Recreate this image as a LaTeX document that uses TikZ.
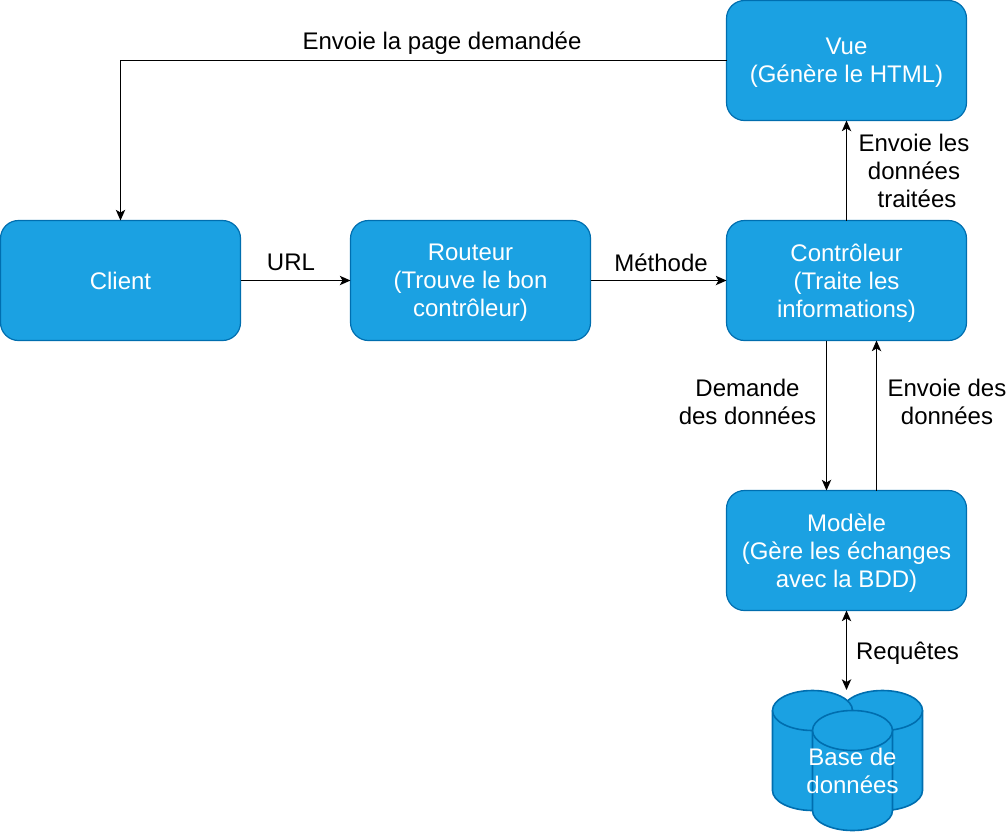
\documentclass[tikz,border=0pt]{standalone}
\usepackage{fontspec}
\setmainfont{Liberation Sans}
\usepackage{tikz}
\usetikzlibrary{arrows,arrows.meta,positioning}
\definecolor{mvcblue}{RGB}{27,161,226}
\definecolor{mvcedge}{RGB}{0,110,175}
\tikzstyle{block} = [rectangle, rounded corners=13.5pt, minimum width=180pt, minimum height=90pt, inner sep=0pt, outer sep=0pt, align=center, text depth=0pt, text=white, draw=mvcedge, fill=mvcblue, line width=0.9pt, font=\fontsize{18}{21}\selectfont]
\tikzstyle{lbl} = [align=center, inner sep=0pt, font=\fontsize{18}{21}\selectfont]
\tikzstyle{arrow} = [line width=0.9pt,-{Stealth[length=8pt,width=7pt,inset=2pt]},color=black]
\tikzstyle{dbl} = [line width=0.9pt,{Stealth[length=8pt,width=7pt,inset=2pt]}-{Stealth[length=8pt,width=7pt,inset=2pt]},color=black]
\tikzstyle{cyl} = [draw=mvcedge, fill=mvcblue, line width=1.2pt]
% one drum of the database, #1 = left edge, #2 = top of the body
\newcommand{\drum}[2]{
\draw[cyl] (#1,#2) -- (#1,#2+80) arc[start angle=180, end angle=360, x radius=40, y radius=-20] -- (#1+80,#2) arc[start angle=0, end angle=180, x radius=40, y radius=-20] -- cycle;
\draw[cyl] (#1,#2) arc[start angle=180, end angle=360, x radius=40, y radius=-20];
}
\begin{document}
\begin{tikzpicture}[x=0.75pt, y=-0.75pt]
\useasboundingbox (0,0) rectangle (1007,832);
\node (client) [block] at (120.5,280.5) {Client};
\node (routeur) [block, right=82.5pt of client] {Routeur\\(Trouve le bon\\contrôleur)};
\node (controleur) [block, right=102pt of routeur] {Contrôleur\\(Traite les\\informations)};
\node (vue) [block, above=75pt of controleur] {Vue\\(Génère le HTML)};
\node (modele) [block, below=112.5pt of controleur] {Modèle\\(Gère les échanges\\avec la BDD)};

% database
\drum{842.5}{710.5}
\drum{772.5}{710.5}
\drum{812.5}{730.5}
\node (bdd) [lbl, text=white] at (852.5,771) {Base de\\données};
\coordinate (bddtop) at (846.5,690);

\node (lblpage) [lbl] at (442,43.5) {Envoie la page demandée};
\node (lblurl) [lbl] at (291,262) {URL};
\node (lblmethode) [lbl] at (661,263) {Méthode};
\node (lbltraite) [lbl] at (914,171) {Envoie les\\données\\\hspace*{4.5pt}traitées};
\node (lbldemande) [lbl] at (747.5,402) {Demande\\des données};
\node (lblenvoie) [lbl] at (947,402) {Envoie des\\données};
\node (lblrequetes) [lbl] at (907.5,653) {Requêtes};

\draw[arrow] (vue.west) -| (client.north);
\draw[arrow] (client) -- (routeur);
\draw[arrow] (routeur) -- (controleur);
\draw[arrow] (controleur) -- (vue);
\draw[arrow] ([xshift=-15pt]controleur.south) -- ([xshift=-15pt]modele.north);
\draw[arrow] ([xshift=22.5pt]modele.north) -- ([xshift=22.5pt]controleur.south);
\draw[dbl] (modele.south) -- (bddtop);
\end{tikzpicture}
\end{document}
